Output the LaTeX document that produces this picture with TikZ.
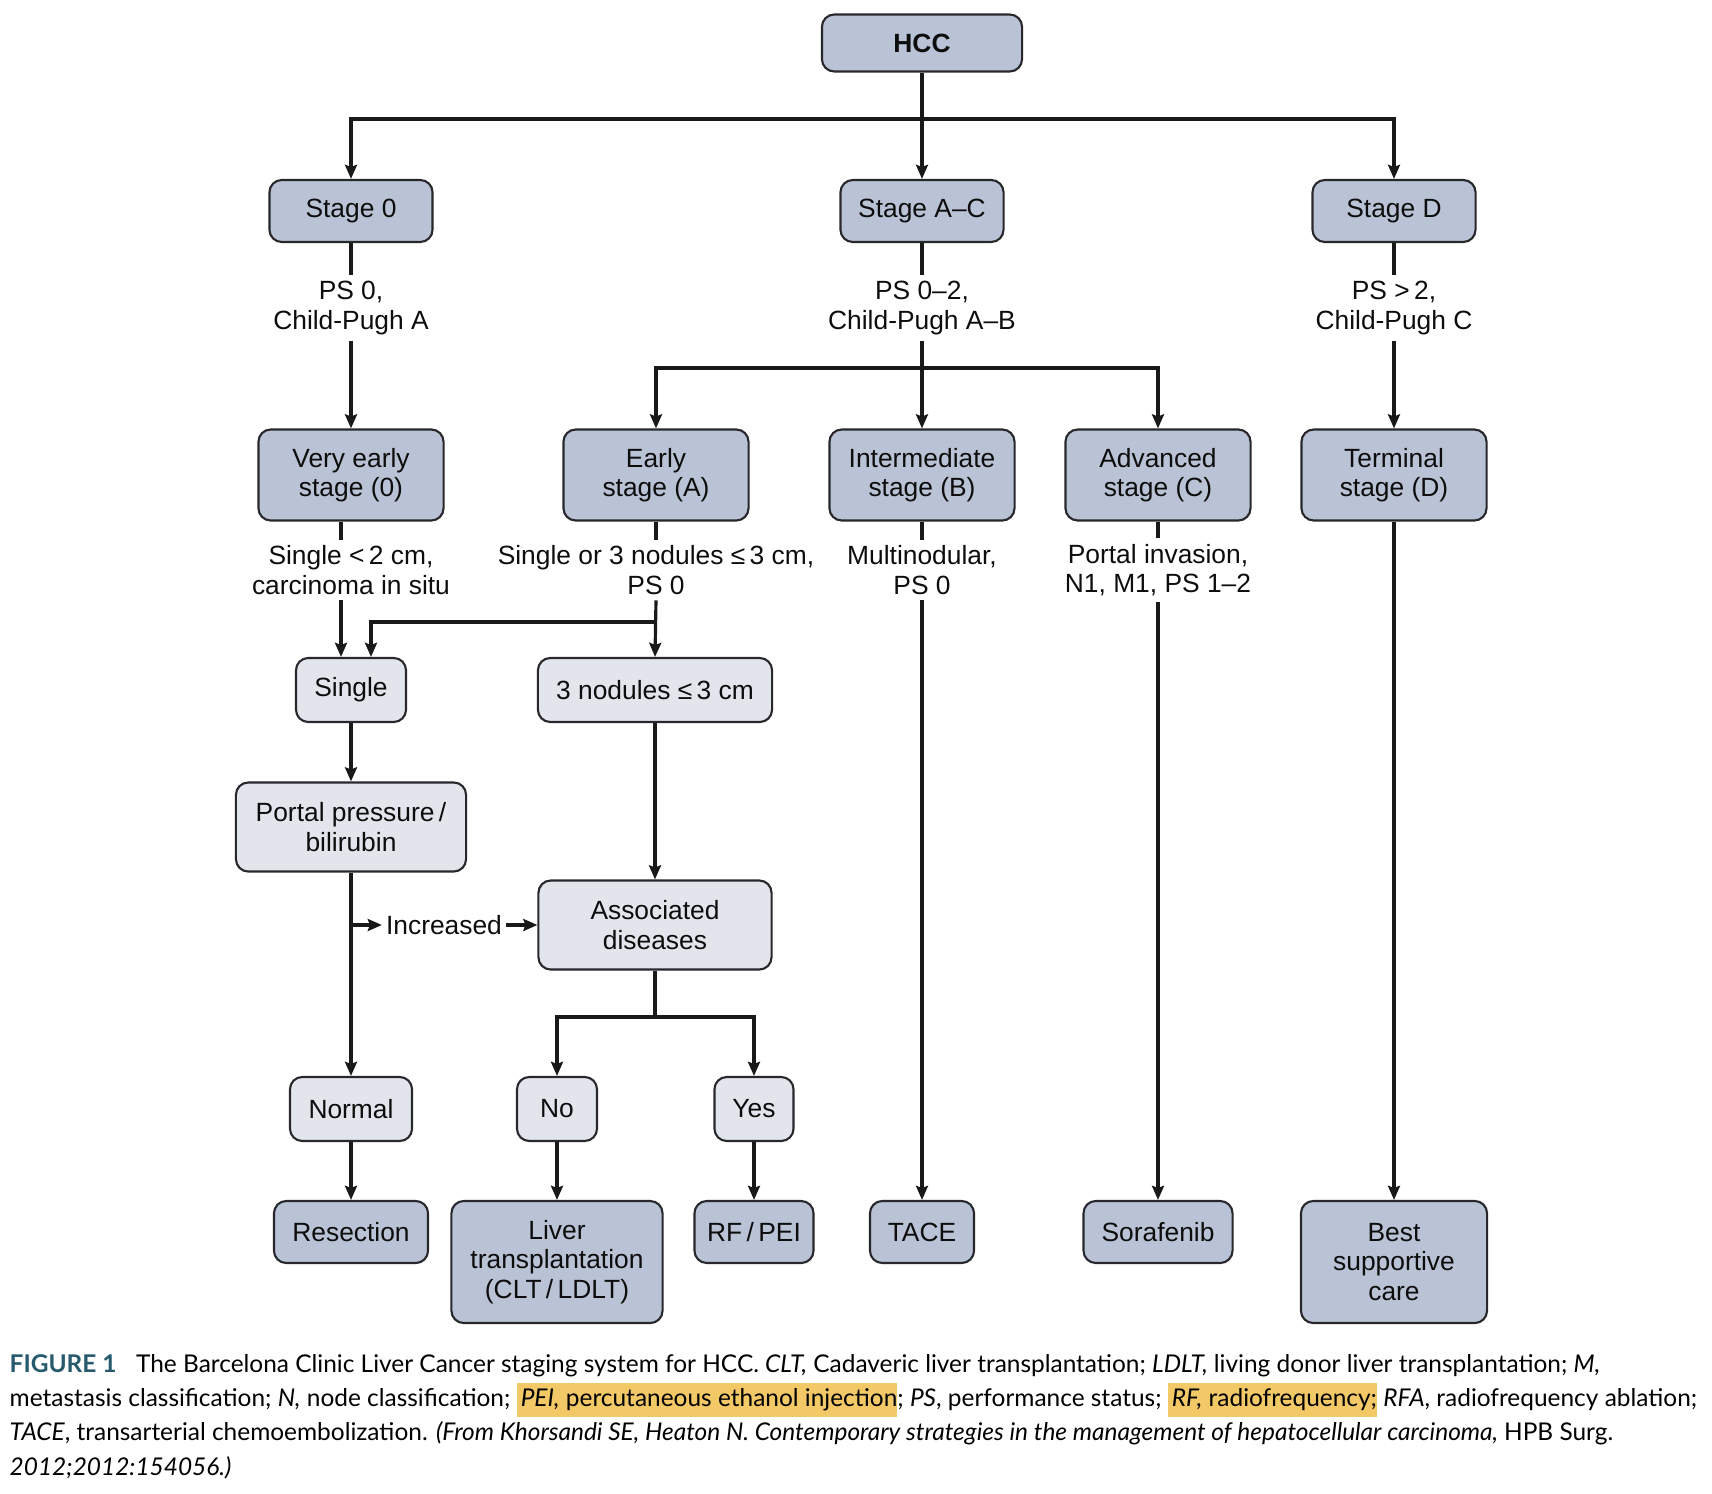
\documentclass[tikz,border=0pt]{standalone}
\usepackage{fontspec}
\setmainfont{Liberation Sans}
\newfontfamily\captionfont{Lato}
\usetikzlibrary{arrows.meta}

\definecolor{stagefill}{RGB}{185,195,213}
\definecolor{choicefill}{RGB}{226,229,235}
\definecolor{boxline}{RGB}{40,40,44}
\definecolor{figteal}{RGB}{38,90,108}
\definecolor{marker}{RGB}{243,200,102}

\newcommand{\marktext}[1]{{\setlength{\fboxsep}{0pt}\colorbox{marker}{\strut\,#1}}}

\begin{document}
\begin{tikzpicture}[
    x=0.01cm,
    y=-0.01cm,
    every node/.style={
        font=\fontsize{7.5}{8.4}\selectfont,
        align=center,
        text=black!95
    },
    stagebox/.style={
        draw=boxline,
        line width=0.6pt,
        rounded corners=3.5pt,
        fill=stagefill,
        inner sep=0pt
    },
    choicebox/.style={
        stagebox,
        fill=choicefill
    },
    criteria/.style={
        inner sep=1.5pt
    },
    link/.style={
        line width=0.9pt,
        black!90
    },
    flow/.style={
        link,
        -{Stealth[length=4pt,width=3.4pt,inset=0.6pt]}
    }
]

\useasboundingbox (0,0) rectangle (1712,1494);

\node[stagebox, minimum width=2cm, minimum height=0.57cm,
    font=\fontsize{7.5}{8.4}\selectfont\bfseries] (hcc) at (922,43) {HCC};

\node[stagebox, minimum width=1.63cm, minimum height=0.62cm] (stage0) at (351,211) {Stage 0};
\node[stagebox, minimum width=1.63cm, minimum height=0.62cm] (stageac) at (922,211) {Stage A--C};
\node[stagebox, minimum width=1.63cm, minimum height=0.62cm] (staged) at (1394,211) {Stage D};

\node[criteria] (ps0) at (351,308) {PS 0,\\Child-Pugh A};
\node[criteria] (ps02) at (922,308) {PS 0--2,\\Child-Pugh A--B};
\node[criteria] (ps2) at (1394,308) {PS >\,2,\\Child-Pugh C};

\node[stagebox, minimum width=1.85cm, minimum height=0.91cm] (veryearly) at (351,475) {Very early\\stage (0)};
\node[stagebox, minimum width=1.85cm, minimum height=0.91cm] (early) at (656,475) {Early\\stage (A)};
\node[stagebox, minimum width=1.85cm, minimum height=0.91cm] (intermediate) at (922,475) {Intermediate\\stage (B)};
\node[stagebox, minimum width=1.85cm, minimum height=0.91cm] (advanced) at (1158,475) {Advanced\\stage (C)};
\node[stagebox, minimum width=1.85cm, minimum height=0.91cm] (terminal) at (1394,475) {Terminal\\stage (D)};

\node[criteria] (insitu) at (351,570) {Single <\,2 cm,\\carcinoma in situ};
\node[criteria] (smallnod) at (656,570) {Single or 3 nodules ≤\,3 cm,\\PS 0};
\node[criteria] (multinod) at (922,570) {Multinodular,\\PS 0};
\node[criteria] (invasion) at (1158,570) {Portal invasion,\\N1, M1, PS 1--2};

\node[choicebox, minimum width=1.10cm, minimum height=0.64cm] (single) at (351,690) {Single};
\node[choicebox, minimum width=2.34cm, minimum height=0.64cm] (threenod) at (655,690) {3 nodules ≤\,3 cm};

\node[choicebox, minimum width=2.30cm, minimum height=0.89cm] (portal) at (351,827) {Portal pressure\,/\\bilirubin};
\node[choicebox, minimum width=2.33cm, minimum height=0.89cm] (assoc) at (655,925) {Associated\\diseases};
\node[inner sep=1pt] (increased) at (444,925) {Increased};

\node[choicebox, minimum width=1.22cm, minimum height=0.64cm] (normal) at (351,1109) {Normal};
\node[choicebox, minimum width=0.80cm, minimum height=0.64cm] (no) at (557,1109) {No};
\node[choicebox, minimum width=0.79cm, minimum height=0.64cm] (yes) at (754,1109) {Yes};

\node[stagebox, minimum width=1.54cm, minimum height=0.62cm] (resection) at (351,1232) {Resection};
\node[stagebox, minimum width=2.11cm, minimum height=1.22cm] (liver) at (557,1262) {Liver\\transplantation\\(CLT\,/\,LDLT)};
\node[stagebox, minimum width=1.19cm, minimum height=0.62cm] (rfpei) at (754,1232) {RF\,/\,PEI};
\node[stagebox, minimum width=1.04cm, minimum height=0.62cm] (tace) at (922,1232) {TACE};
\node[stagebox, minimum width=1.49cm, minimum height=0.62cm] (sorafenib) at (1158,1232) {Sorafenib};
\node[stagebox, minimum width=1.86cm, minimum height=1.22cm] (bsc) at (1394,1262) {Best\\supportive\\care};

\coordinate (hccsplit) at (922,119);
\coordinate (acsplit) at (922,368);
\coordinate (asplit) at (656,622);
\coordinate (dsplit) at (655,1017);

\draw[flow] (hcc.south) -- (stageac.north);
\draw[flow] (hccsplit) -| (stage0.north);
\draw[flow] (hccsplit) -| (staged.north);

\draw[link] (stage0.south) -- (ps0.north);
\draw[flow] (ps0.south) -- (veryearly.north);
\draw[link] (stageac.south) -- (ps02.north);
\draw[flow] (ps02.south) -- (intermediate.north);
\draw[flow] (acsplit) -| (early.north);
\draw[flow] (acsplit) -| (advanced.north);
\draw[link] (staged.south) -- (ps2.north);
\draw[flow] (ps2.south) -- (terminal.north);

\draw[link]
    ([xshift=-1mm]veryearly.south)
    --
    ([xshift=-1mm]veryearly.south |- insitu.north);
\draw[flow]
    ([xshift=-1mm]single.north |- insitu.south)
    --
    ([xshift=-1mm]single.north);
\draw[link] (early.south) -- (smallnod.north);
\draw[flow] (smallnod.south) -- (threenod.north);
\draw[flow] (asplit) -| ([xshift=2mm]single.north);
\draw[link] (intermediate.south) -- (multinod.north);
\draw[flow] (multinod.south) -- (tace.north);
\draw[link] (advanced.south) -- (invasion.north);
\draw[flow] (invasion.south) -- (sorafenib.north);
\draw[flow] (terminal.south) -- (bsc.north);

\draw[flow] (single.south) -- (portal.north);
\draw[flow] (portal.south) -- (normal.north);
\draw[flow] (portal.south |- increased.west) -- (increased.west);
\draw[flow] (increased.east) -- (assoc.west);
\draw[flow] (threenod.south) -- (assoc.north);
\draw[link] (assoc.south) -- (dsplit);
\draw[flow] (dsplit) -| (no.north);
\draw[flow] (dsplit) -| (yes.north);

\draw[flow] (normal.south) -- (resection.north);
\draw[flow] (no.south) -- (liver.north);
\draw[flow] (yes.south) -- (rfpei.north);

\node[
    anchor=north west,
    align=left,
    inner sep=0pt,
    text=black,
    font=\captionfont\fontsize{6.95}{9.7}\selectfont
] (caption) at (9,1354) {
    {\color{figteal}\bfseries FIGURE 1}\hspace{0.8em}The Barcelona Clinic Liver Cancer staging system for HCC. \textit{CLT,} Cadaveric liver transplantation; \textit{LDLT,} living donor liver transplantation; \textit{M,}\\
    metastasis classification; \textit{N,} node classification; \marktext{\textit{PEI,} percutaneous ethanol injection}; \textit{PS}, performance status; \marktext{\textit{RF,} radiofrequency;} \textit{RFA}, radiofrequency ablation;\\
    \textit{TACE}, transarterial chemoembolization. \textit{(From Khorsandi SE, Heaton N. Contemporary strategies in the management of hepatocellular carcinoma,} HPB Surg.\\
    \textit{2012;2012:154056.)}
};

\end{tikzpicture}
\end{document}
